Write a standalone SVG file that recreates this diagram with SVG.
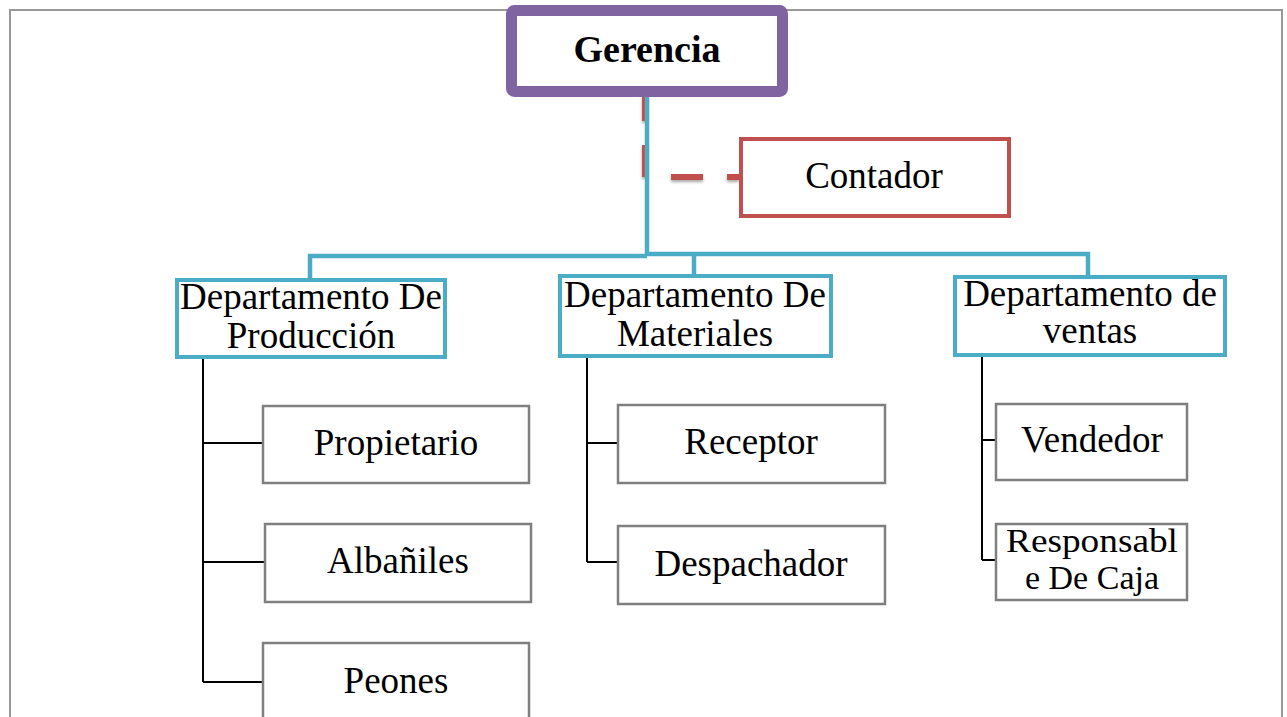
<svg xmlns="http://www.w3.org/2000/svg" width="1287" height="717" viewBox="0 0 1287 717">
<defs>
<filter id="shadow" x="-10%" y="-10%" width="130%" height="130%">
<feGaussianBlur in="SourceAlpha" stdDeviation="1.5"/>
<feOffset dx="0" dy="2" result="b"/>
<feComponentTransfer><feFuncA type="linear" slope="0.35"/></feComponentTransfer>
<feMerge><feMergeNode/><feMergeNode in="SourceGraphic"/></feMerge>
</filter>
</defs>
<style>
text{font-family:"Liberation Serif","Times New Roman",serif;font-size:37px;fill:#000;text-anchor:middle}
.bold{font-weight:bold;font-size:38px}
.small{font-size:34px}
.top{fill:#fff;stroke:#8064A2;stroke-width:11}
.dept{fill:#fff;stroke:#4BACC6;stroke-width:4}
.cont{fill:#fff;stroke:#C0504D;stroke-width:4}
.leaf{fill:#fff;stroke:#7f7f7f;stroke-width:2.5}
.blue{fill:none;stroke:#4BACC6;stroke-width:4.5}
.blk{fill:none;stroke:#000;stroke-width:2}
.red{fill:none;stroke:#C0504D;stroke-width:6}
</style>
<rect x="10" y="10" width="1272" height="720" fill="#fff" stroke="#999" stroke-width="2"/>
<g id="connectors">
<path class="red" filter="url(#shadow)" d="M645,97 V121 M645,145 V177 M671,177 H703 M727,177 H739"/>
<path class="blue" d="M647,97 V254 M647,254 H1088 V275 M647,254 H694 V274 M647,256 H310 V278"/>
<path class="blk" d="M203,359 V682 M203,443 H262 M203,562 H264 M203,682 H262"/>
<path class="blk" d="M587,358 V562 M587,443 H617 M587,562 H617"/>
<path class="blk" d="M982,357 V560 M982,440 H995 M982,560 H995"/>
</g>
<g id="gerencia">
<rect class="top" x="511.5" y="10.5" width="271" height="81" rx="3"/>
<text class="bold" x="647" y="62">Gerencia</text>
</g>
<g id="contador">
<rect class="cont" x="741" y="139" width="268" height="77"/>
<text x="874" y="188">Contador</text>
</g>
<g id="dep-produccion">
<rect class="dept" x="177" y="280" width="268" height="77"/>
<text x="311" y="309">Departamento De</text>
<text x="311" y="348">Producción</text>
</g>
<g id="dep-materiales">
<rect class="dept" x="560" y="276" width="271" height="80"/>
<text x="695" y="307">Departamento De</text>
<text x="695" y="346">Materiales</text>
</g>
<g id="dep-ventas">
<rect class="dept" x="955" y="277" width="270" height="78"/>
<text x="1090" y="306">Departamento de</text>
<text x="1090" y="343">ventas</text>
</g>
<g id="propietario">
<rect class="leaf" x="263" y="406" width="266" height="77"/>
<text x="396" y="455">Propietario</text>
</g>
<g id="albaniles">
<rect class="leaf" x="265" y="524" width="266" height="78"/>
<text x="398" y="573">Albañiles</text>
</g>
<g id="peones">
<rect class="leaf" x="263" y="643" width="266" height="90"/>
<text x="396" y="693">Peones</text>
</g>
<g id="receptor">
<rect class="leaf" x="618" y="405" width="267" height="78"/>
<text x="751" y="454">Receptor</text>
</g>
<g id="despachador">
<rect class="leaf" x="618" y="526" width="267" height="78"/>
<text x="751" y="576">Despachador</text>
</g>
<g id="vendedor">
<rect class="leaf" x="996" y="404" width="191" height="76"/>
<text x="1092" y="452">Vendedor</text>
</g>
<g id="responsable">
<rect class="leaf" x="996" y="524" width="191" height="76"/>
<text class="small" x="1092" y="552" textLength="172" lengthAdjust="spacingAndGlyphs">Responsabl</text>
<text class="small" x="1092" y="589">e De Caja</text>
</g>
</svg>
